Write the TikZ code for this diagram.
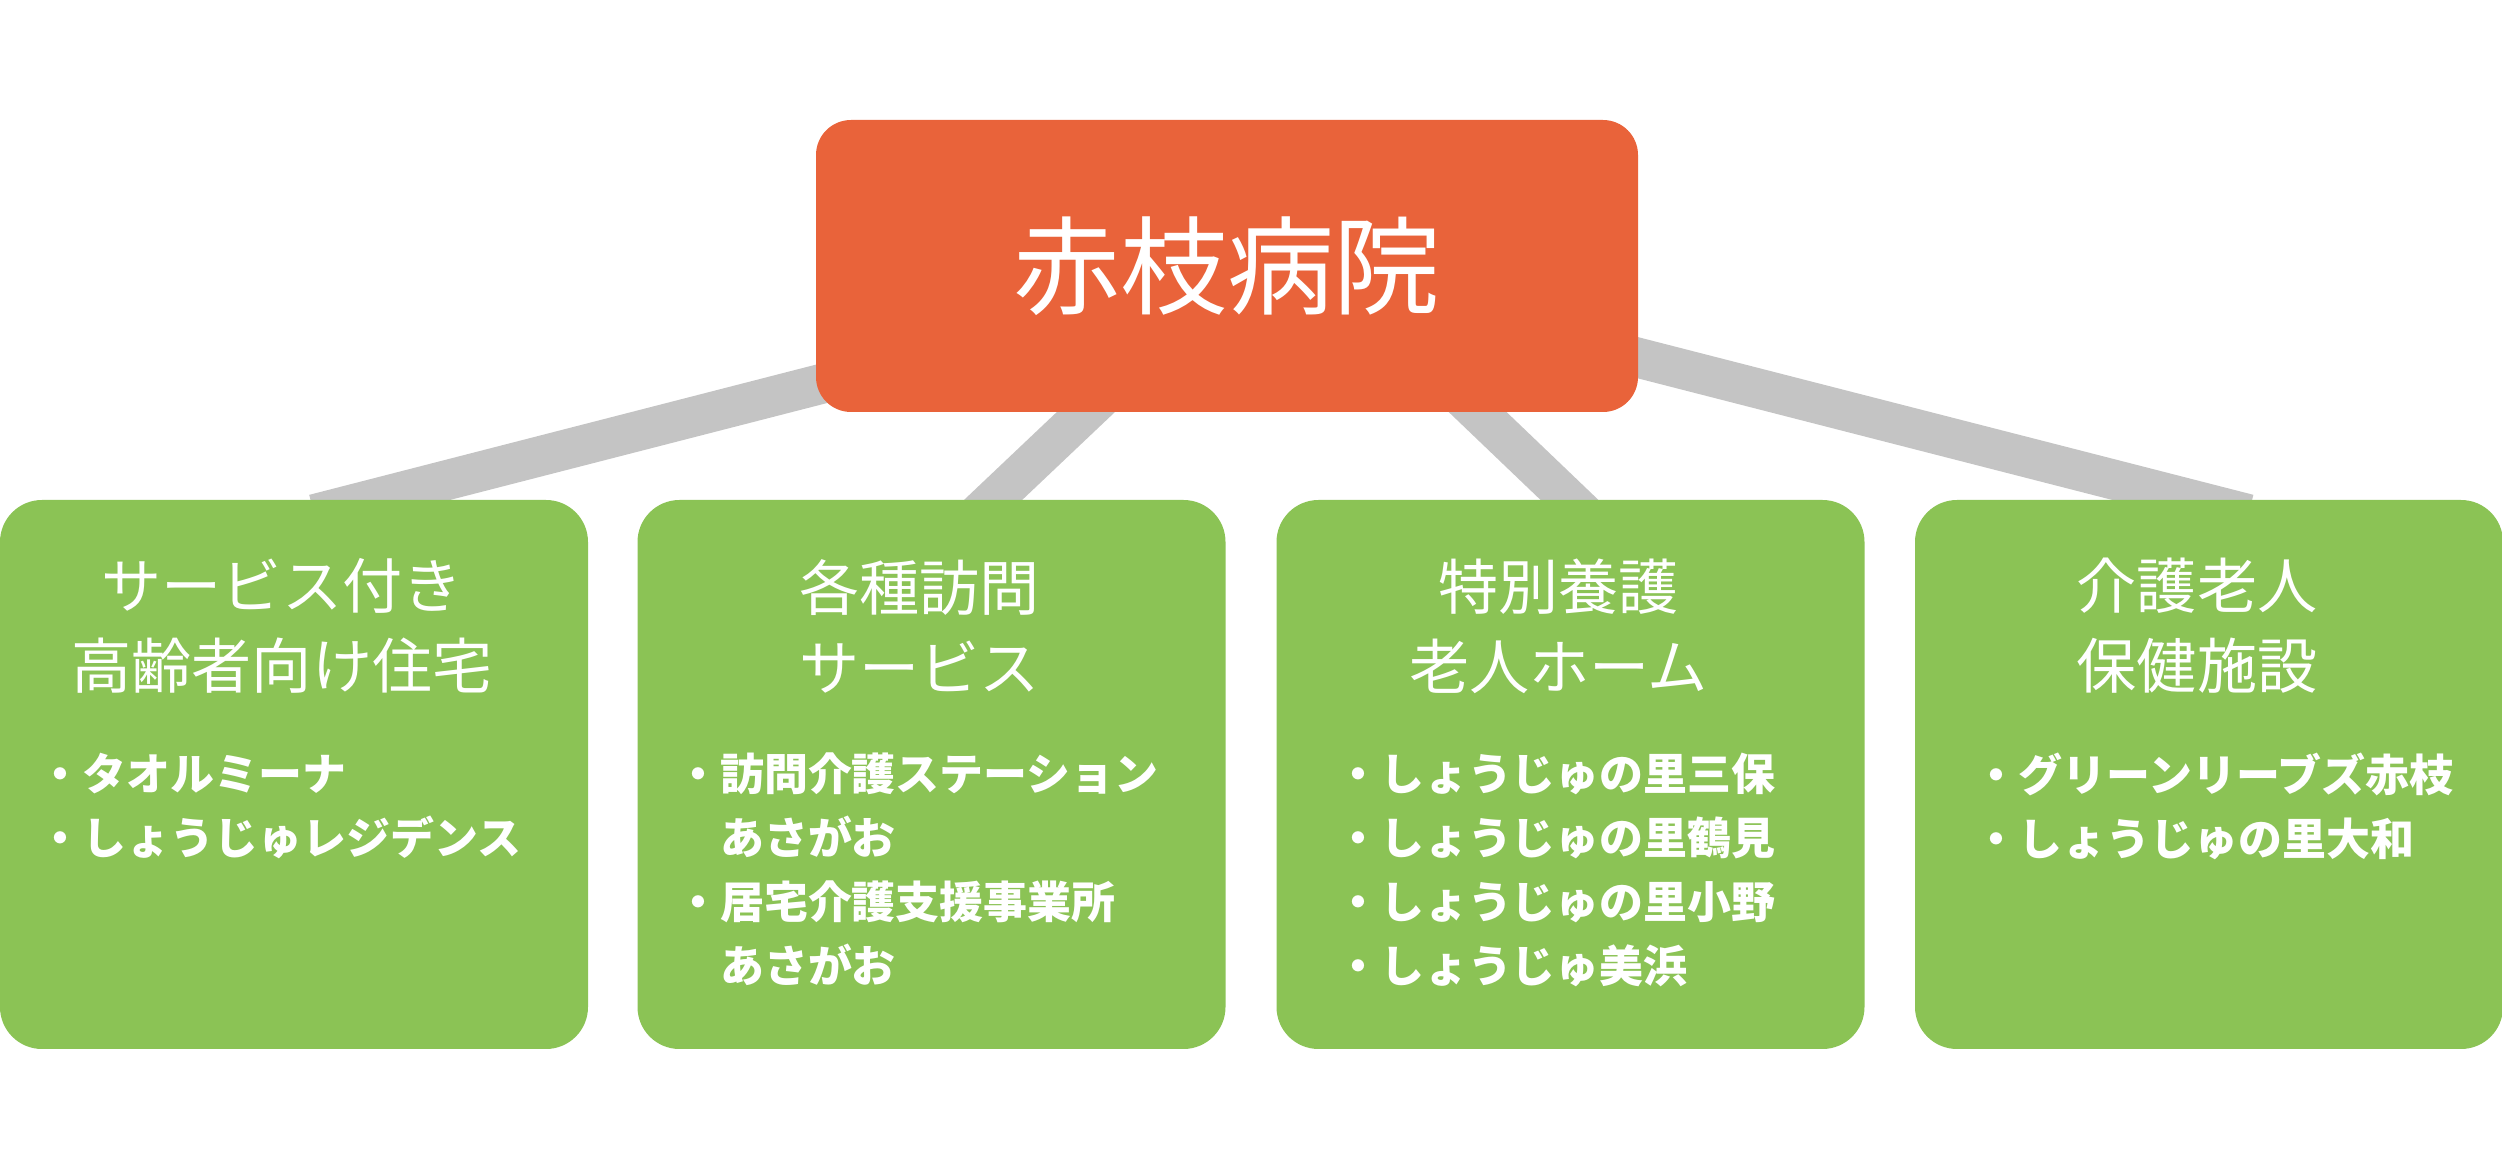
\documentclass[tikz,border=0pt]{standalone}
\usepackage{fontspec}
\setmainfont{Noto Sans CJK JP}
\usepackage{tikz}
\usepackage{xcolor}
\usetikzlibrary{positioning,calc,backgrounds}
\definecolor{hospred}{HTML}{E9633A}
\definecolor{caregreen}{HTML}{8BC355}
\definecolor{linkgray}{HTML}{C4C4C4}
\tikzset{
  hospcard/.style={fill=hospred,rounded corners=0.35cm,minimum width=8.22cm,
                   minimum height=2.92cm,inner sep=0pt,text=white,
                   font=\fontsize{30.4}{36}\selectfont},
  carecard/.style={fill=caregreen,rounded corners=0.42cm,minimum width=5.88cm,
                   minimum height=5.49cm,inner sep=0pt},
  titletext/.style={text=white,align=center,inner sep=0pt,
                    font=\fontsize{17.1}{22.8}\selectfont},
  itemtext/.style={text=white,align=left,inner sep=0pt,anchor=north west,
                   font=\bfseries\fontsize{12.5}{18.2}\selectfont},
  linkbar/.style={draw=linkgray,line width=0.40cm,shorten >=-0.6cm}
}

\begin{document}
\begin{tikzpicture}[x=1cm,y=1cm]
    \path[use as bounding box] (0,0) rectangle (25.02,-11.70);
    \node[hospcard] (root) at (12.27,-2.66) {赤枝病院};
    \node[carecard] (b1) at (2.94,-7.745) {};
    \node[carecard] (b2) at (9.315,-7.745) {};
    \node[carecard] (b3) at (15.705,-7.745) {};
    \node[carecard] (b4) at (22.09,-7.745) {};
    % titles
    \node[titletext] (t1) at (2.82,-6.26) {サービス付き\\高齢者向け住宅};
    \node[titletext] (t2) at (9.195,-6.26) {各種訪問\\サービス};
    \node[titletext] (t3) at (15.585,-6.26) {特別養護\\老人ホーム};
    \node[titletext] (t4) at (21.97,-6.26) {介護老人\\保健施設};
    % facilities
    \node[itemtext] (i1) at (0.38,-7.52)
      {・タオルミーナ\\・しょうじゅレジデンス};
    \node[itemtext] (i2) at (6.755,-7.52)
      {・訪問介護ステーション\\\hspace*{1em}あさがお\\
       ・居宅介護支援事業所\\\hspace*{1em}あさがお};
    \node[itemtext] (i3) at (13.355,-7.52)
      {・しょうじゅの里三保\\・しょうじゅの里鶴見\\
       ・しょうじゅの里小野\\・しょうじゅ美浜};
    \node[itemtext] (i4) at (19.74,-7.52)
      {・グリーンリーブズ赤枝\\・しょうじゅの里大和};
    \begin{scope}[on background layer]
      \draw[linkbar] ($(root.center)+(0.53,0)$) -- ($(b1.north west)+(3.73,0)$);
      \draw[linkbar] ($(root.center)+(0.13,0)$) -- ($(b2.north west)+(3.57,0)$);
      \draw[linkbar] ($(root.center)+(0.98,0)$) -- ($(b3.north west)+(2.93,0)$);
      \draw[linkbar] ($(root.center)+(0.53,0)$) -- ($(b4.north west)+(2.76,0)$);
    \end{scope}
  \end{tikzpicture}
\end{document}
